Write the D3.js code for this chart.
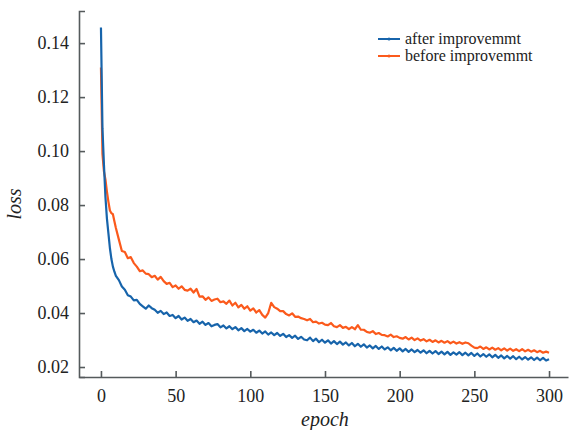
<!DOCTYPE html>
<html>
	<head>
		<meta charset="utf-8">
		<script src="https://cdn.jsdelivr.net/npm/d3@7"></script>
		<style>
			body { margin: 0; background: #fff; }
		</style>
	</head>
	<body> <svg width="570" height="430"></svg> </body>

	<script>
		// epochs: dense for the first few, then every other epoch
		var epochs = [0, 1, 2, 3, 4, 5, 6, 7, 8, 9, 10].concat(d3.range(12, 301, 2));

		var after_loss = [
			0.1458, 0.1085, 0.0950, 0.0830, 0.0750, 0.0695, 0.0640, 0.0600, 0.0572, 0.0553, 0.0538,
			0.0522, 0.0498, 0.0486, 0.0466, 0.0461, 0.0447, 0.0449, 0.0434, 0.0425, 0.0416,
			0.0428, 0.0418, 0.0412, 0.0401, 0.0408, 0.0396, 0.0402, 0.0389, 0.0393, 0.0381,
			0.0389, 0.0376, 0.0383, 0.0371, 0.0378, 0.0366, 0.0372, 0.0360, 0.0368, 0.0356,
			0.0363, 0.0351, 0.0356, 0.0359, 0.0347, 0.0354, 0.0343, 0.0351, 0.0340, 0.0348,
			0.0336, 0.0344, 0.0333, 0.0341, 0.0331, 0.0338, 0.0327, 0.0335, 0.0324, 0.0332,
			0.0320, 0.0328, 0.0318, 0.0326, 0.0315, 0.0323, 0.0311, 0.0318, 0.0308, 0.0316,
			0.0304, 0.0312, 0.0302, 0.0299, 0.0309, 0.0296, 0.0305, 0.0292, 0.0301, 0.0290,
			0.0299, 0.0287, 0.0296, 0.0285, 0.0294, 0.0283, 0.0291, 0.0280, 0.0289, 0.0277,
			0.0286, 0.0275, 0.0284, 0.0272, 0.0280, 0.0269, 0.0278, 0.0267, 0.0276, 0.0265,
			0.0273, 0.0262, 0.0271, 0.0260, 0.0269, 0.0258, 0.0267, 0.0256, 0.0265, 0.0255,
			0.0263, 0.0253, 0.0262, 0.0251, 0.0260, 0.0250, 0.0259, 0.0248, 0.0257, 0.0247,
			0.0256, 0.0245, 0.0254, 0.0246, 0.0255, 0.0244, 0.0253, 0.0243, 0.0252, 0.0241,
			0.0250, 0.0239, 0.0248, 0.0238, 0.0247, 0.0236, 0.0245, 0.0234, 0.0243, 0.0232,
			0.0241, 0.0231, 0.0240, 0.0229, 0.0238, 0.0228, 0.0237, 0.0227, 0.0236, 0.0226,
			0.0235, 0.0225, 0.0234, 0.0224, 0.0229
		];

		var before_loss = [
			0.1310, 0.0990, 0.0925, 0.0895, 0.0850, 0.0812, 0.0780, 0.0770, 0.0766, 0.0740, 0.0715,
			0.0672, 0.0630, 0.0626, 0.0603, 0.0607, 0.0585, 0.0572, 0.0555, 0.0558, 0.0546,
			0.0544, 0.0533, 0.0538, 0.0524, 0.0534, 0.0518, 0.0508, 0.0512, 0.0496, 0.0502,
			0.0490, 0.0499, 0.0486, 0.0483, 0.0490, 0.0476, 0.0489, 0.0461, 0.0462, 0.0449,
			0.0458, 0.0445, 0.0450, 0.0453, 0.0440, 0.0443, 0.0434, 0.0446, 0.0428, 0.0438,
			0.0421, 0.0430, 0.0416, 0.0425, 0.0409, 0.0417, 0.0402, 0.0411, 0.0393, 0.0383,
			0.0400, 0.0438, 0.0422, 0.0416, 0.0407, 0.0407, 0.0396, 0.0391, 0.0399, 0.0386,
			0.0387, 0.0381, 0.0378, 0.0373, 0.0378, 0.0366, 0.0368, 0.0361, 0.0364, 0.0357,
			0.0355, 0.0363, 0.0351, 0.0348, 0.0355, 0.0345, 0.0349, 0.0340, 0.0348, 0.0340,
			0.0355, 0.0338, 0.0338, 0.0330, 0.0327, 0.0333, 0.0322, 0.0326, 0.0319, 0.0318,
			0.0313, 0.0320, 0.0311, 0.0314, 0.0308, 0.0305, 0.0311, 0.0302, 0.0309, 0.0300,
			0.0306, 0.0298, 0.0303, 0.0295, 0.0301, 0.0293, 0.0299, 0.0291, 0.0297, 0.0290,
			0.0296, 0.0288, 0.0294, 0.0287, 0.0292, 0.0286, 0.0291, 0.0288, 0.0279, 0.0272,
			0.0270, 0.0276, 0.0267, 0.0273, 0.0265, 0.0272, 0.0264, 0.0270, 0.0262, 0.0269,
			0.0261, 0.0268, 0.0260, 0.0266, 0.0259, 0.0266, 0.0258, 0.0264, 0.0257, 0.0262,
			0.0255, 0.0260, 0.0253, 0.0257, 0.0253
		];

		var x_ticks = [0, 50, 100, 150, 200, 250, 300];
		var y_ticks = [0.02, 0.04, 0.06, 0.08, 0.10, 0.12, 0.14];
		var series_names = ["after improvemmt", "before improvemmt"];

		var svg = d3.select("svg");
		// plot box edges (window.top is taken, so prefix them)
		var plot_left = 79, plot_right = 568, plot_top = 11, plot_bottom = 377,
			blue   = "#1764ab",
			orange = "#fb5a1c",
			axis_color = "#555a5c",
			text_color = "#222",
			font = "'Liberation Serif', 'DejaVu Serif', serif";

		var x = d3.scaleLinear().domain([-14.7, 312.7]).range([plot_left, plot_right]);
		var y = d3.scaleLinear().domain([0.0163, 0.1519]).range([plot_bottom, plot_top]);

		// axes, ticks pointing inward
		var x_axis = svg.append("g")
			.attr("transform", "translate(0," + plot_bottom + ")")
			.call(d3.axisBottom(x).tickValues(x_ticks).tickSize(-6).tickSizeOuter(0).tickPadding(12).tickFormat(d3.format("d")));
		var y_axis = svg.append("g")
			.attr("transform", "translate(" + plot_left + ",0)")
			.call(d3.axisLeft(y).tickValues(y_ticks).tickSize(-6).tickSizeOuter(-6).tickPadding(10).tickFormat(d3.format(".2f")));

		[x_axis, y_axis].forEach(function(a) {
			a.selectAll("path, line").attr("stroke", axis_color).attr("stroke-width", 1.6);
			a.selectAll("text")
				.attr("fill", text_color)
				.attr("font-family", font)
				.attr("font-size", "18px");
		});

		// the lines
		var line = d3.line()
			.x(function(d, i) { return x(epochs[i]); })
			.y(function(d) { return y(d); });

		svg.append("path")
			.datum(before_loss)
			.attr("fill", "none")
			.attr("stroke", orange)
			.attr("stroke-width", 2.2)
			.attr("stroke-linejoin", "round")
			.attr("d", line);

		svg.append("path")
			.datum(after_loss)
			.attr("fill", "none")
			.attr("stroke", blue)
			.attr("stroke-width", 2.2)
			.attr("stroke-linejoin", "round")
			.attr("d", line);

		// axis titles
		svg.append("text")
			.text("loss")
			.attr("font-family", font)
			.attr("font-style", "italic")
			.attr("font-size", "20px")
			.attr("fill", text_color)
			.attr("text-anchor", "middle")
			.attr("transform", "translate(21,204) rotate(-90)");

		svg.append("text")
			.text("epoch")
			.attr("font-family", font)
			.attr("font-style", "italic")
			.attr("font-size", "20px")
			.attr("fill", text_color)
			.attr("text-anchor", "middle")
			.attr("x", 325)
			.attr("y", 426);

		// legend
		var legend = svg.append("g").attr("transform", "translate(378,39)");
		var colors = [blue, orange];
		series_names.forEach(function(name, i) {
			var row = legend.append("g").attr("transform", "translate(0," + (i * 17) + ")");
			row.append("line")
				.attr("x1", 0).attr("x2", 22)
				.attr("stroke", colors[i]).attr("stroke-width", 2);
			row.append("circle")
				.attr("cx", 11).attr("r", 1.5)
				.attr("fill", colors[i]);
			row.append("text")
				.text(name)
				.attr("x", 27)
				.attr("dy", "0.32em")
				.attr("font-family", font)
				.attr("font-size", "16px")
				.attr("fill", text_color);
		});
	</script>
</html>
